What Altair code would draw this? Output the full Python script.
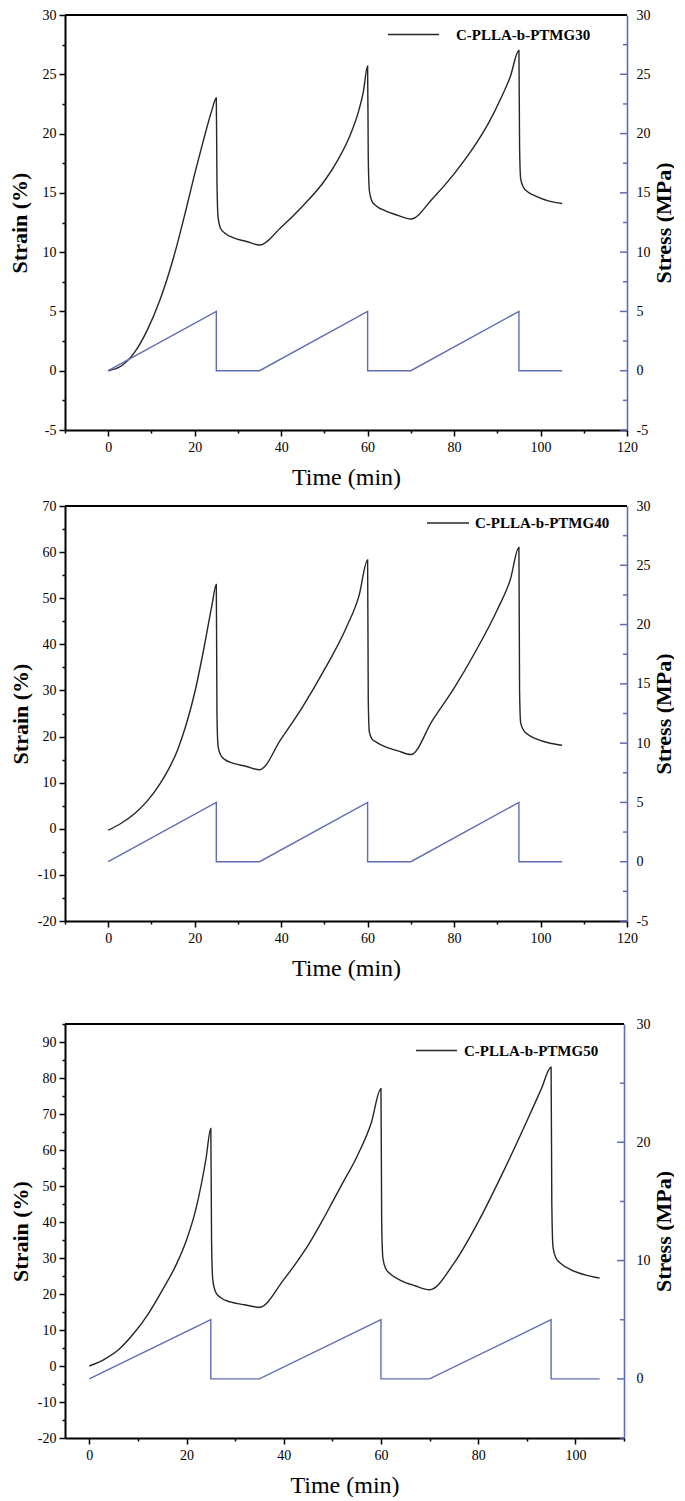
import altair as alt
import pandas as pd

# ---------------- data ----------------
P1_T = [0, 3, 6, 9, 12, 15, 18, 20, 22, 24, 25, 25.15, 25.4, 26, 27, 29, 32, 35,
        40, 45, 50, 53, 56, 58, 59, 60, 60.15, 60.4, 61, 62, 64, 67, 70,
        75, 80, 85, 88, 91, 93, 95, 95.15, 95.4, 96, 97, 99, 102, 105]
P1_STRAIN = [0, 0.4, 1.5, 3.4, 6.0, 9.4, 13.6, 16.6, 19.4, 22, 23, 16, 13, 12, 11.6, 11.2, 10.9, 10.6,
             12.1, 13.9, 16.0, 17.7, 19.9, 22.0, 23.5, 25.7, 18, 15.2, 14.3, 13.9, 13.5, 13.1, 12.8,
             14.5, 16.6, 19.1, 20.9, 23.1, 24.8, 27, 19, 16.2, 15.5, 15.1, 14.7, 14.3, 14.1]

P2_T = [0, 3, 6, 9, 12, 14, 16, 18, 20, 22, 24, 25, 25.15, 25.4, 26, 27, 29, 32, 35,
        40, 45, 50, 55, 58, 60, 60.15, 60.4, 61, 62, 64, 67, 70,
        75, 80, 85, 90, 93, 95, 95.15, 95.4, 96, 97, 99, 102, 105]
P2_STRAIN = [-0.3, 1.2, 3.2, 6.0, 9.8, 13, 17, 22.5, 29.5, 38.5, 48.5, 53, 25, 18, 16, 15, 14.2, 13.5, 12.8,
             19.5, 26.5, 34.5, 43.5, 50.5, 58.3, 28, 21, 19.5, 18.8, 17.8, 16.9, 16.1,
             23.5, 30.5, 38.5, 47.5, 54, 61, 30, 23, 21.5, 20.5, 19.5, 18.6, 18.1]

P3_T = [0, 3, 6, 9, 12, 15, 18, 20, 22, 24, 25, 25.15, 25.4, 26, 27, 29, 32, 35,
        40, 43, 45, 48, 50, 52, 55, 58, 60, 60.15, 60.4, 61, 62, 64, 67, 70,
        75, 80, 85, 90, 93, 95, 95.15, 95.4, 96, 97, 99, 102, 105]
P3_STRAIN = [0, 1.8, 4.5, 8.8, 14.2, 21, 28.5, 35, 44, 57.5, 66, 35, 24, 20.5, 19, 17.8, 17, 16.3,
             24, 29.5, 33.5, 40.5, 45.5, 50.5, 58, 67.5, 77, 40, 30, 27, 25.5, 23.8, 22.3, 21.2,
             28.5, 40, 53.5, 68, 77, 83, 45, 33, 30, 28.5, 26.8, 25.3, 24.4]

STRESS_T = [0, 25, 25, 35, 60, 60, 70, 95, 95, 105]
STRESS = [0, 5, 0, 0, 5, 0, 0, 5, 0, 0]

NAMES = ["C-PLLA-b-PTMG30", "C-PLLA-b-PTMG40", "C-PLLA-b-PTMG50"]

# tick positions (major labelled, minor unlabelled)
X_TICKS_A = list(range(-10, 121, 10))
X_TICKS_B = list(range(0, 111, 10))
Y1_TICKS = [v / 2 for v in range(-10, 61, 5)]      # -5 .. 30 step 2.5
Y2_TICKS = list(range(-20, 71, 5))
Y3_TICKS = list(range(-20, 96, 5))
R_TICKS_A = [v / 2 for v in range(-10, 61, 5)]
R_TICKS_B = list(range(-5, 31, 5))

FONT = "Liberation Serif"
BLUE = "#5f6db5"
BLACK = "#262626"


def cond_size(m):
    return {"condition": {"test": f"datum.value % {m} === 0", "value": 6}, "value": 3}


def lab_expr(m):
    return f"datum.value % {m} === 0 ? '' + datum.value : ''"


def panel(t, strain, name, xdom, xvals, ydom, yvals, ymaj, rdom, rvals, rmaj,
          W, H, legx, legy, symlen, laboff, ltp, rlp, rtp):
    sdf = pd.DataFrame({"t": t, "s": strain, "series": name})
    pdf = pd.DataFrame({"t": STRESS_T, "p": STRESS, "i": list(range(len(STRESS)))})
    rmajor = pd.DataFrame({"v": [v for v in rvals if v % rmaj == 0]})
    rminor = pd.DataFrame({"v": [v for v in rvals if v % rmaj != 0]})

    x_enc = alt.X(
        "t:Q",
        scale=alt.Scale(domain=xdom, nice=False, zero=False),
        axis=alt.Axis(values=xvals, labelExpr=lab_expr(20), tickSize=cond_size(20),
                      title="Time (min)", titleFontSize=24, titleFontWeight="normal",
                      titlePadding=11, labelPadding=4, domainColor="black", domainWidth=2,
                      tickColor="black", tickWidth=1.5, labelOverlap=False, labelFlush=False),
    )

    strain_l = alt.Chart(sdf).mark_line(interpolate="monotone", strokeWidth=1.4).encode(
        x=x_enc,
        y=alt.Y("s:Q", scale=alt.Scale(domain=ydom, nice=False, zero=False),
                axis=alt.Axis(orient="left", values=yvals, labelExpr=lab_expr(ymaj),
                              tickSize=cond_size(ymaj), title="Strain (%)",
                              titleFontSize=22, titleFontWeight="bold", titlePadding=ltp,
                              labelPadding=3, domainColor="black", domainWidth=2,
                              tickColor="black", tickWidth=1.5, labelOverlap=False)),
        color=alt.Color("series:N",
                        scale=alt.Scale(domain=[name], range=[BLACK]),
                        legend=alt.Legend(orient="none", legendX=legx, legendY=legy, title=None,
                                          symbolType="stroke", symbolSize=symlen * symlen,
                                          symbolStrokeWidth=1.4, labelFont=FONT,
                                          labelFontWeight="bold", labelFontSize=15,
                                          labelColor="black", labelOffset=laboff, padding=0)),
    )

    stress_l = alt.Chart(pdf).mark_line(color=BLUE, strokeWidth=1.4).encode(
        x=x_enc,
        y=alt.Y("p:Q", scale=alt.Scale(domain=rdom, nice=False, zero=False),
                axis=alt.Axis(orient="right", values=rvals, labelExpr=lab_expr(rmaj),
                              ticks=False, title="Stress (MPa)",
                              titleFontSize=22, titleFontWeight="bold", titlePadding=rtp,
                              titleAngle=270, titleBaseline="top",
                              labelPadding=rlp, domainColor=BLUE, domainWidth=1.6,
                              labelOverlap=False)),
        order="i:Q",
    )

    # inward-pointing ticks of the right (stress) axis
    rtick_major = alt.Chart(rmajor).mark_rule(color=BLUE, strokeWidth=1.5).encode(
        x=alt.value(W - 7), x2=alt.value(W),
        y=alt.Y("v:Q", scale=alt.Scale(domain=rdom, nice=False, zero=False), axis=None),
    )
    rtick_minor = alt.Chart(rminor).mark_rule(color=BLUE, strokeWidth=1.5).encode(
        x=alt.value(W - 4), x2=alt.value(W),
        y=alt.Y("v:Q", scale=alt.Scale(domain=rdom, nice=False, zero=False), axis=None),
    )

    top_l = alt.Chart(pd.DataFrame({"a": [0]})).mark_rule(color="black", strokeWidth=2).encode(
        x=alt.value(0), x2=alt.value(W), y=alt.value(0)
    )

    return alt.layer(strain_l, stress_l, rtick_major, rtick_minor, top_l).resolve_scale(
        y="independent", color="independent"
    ).properties(width=W, height=H)


# legendY = desired centre of the entry minus half the symbol length
p1 = panel(P1_T, P1_STRAIN, NAMES[0], [-10, 120], X_TICKS_A, [-5, 30], Y1_TICKS, 5,
           [-5, 30], R_TICKS_A, 5, 562, 415, 322, -7, 51, 16, 11, 9, 3)
p2 = panel(P2_T, P2_STRAIN, NAMES[1], [-10, 120], X_TICKS_A, [-20, 70], Y2_TICKS, 10,
           [-5, 30], R_TICKS_A, 5, 562, 415, 361, -5, 42, 5, 5, 9, 3)
p3 = panel(P3_T, P3_STRAIN, NAMES[2], [-5, 110], X_TICKS_B, [-20, 95], Y3_TICKS, 10,
           [-5, 30], R_TICKS_B, 10, 559, 414, 350, 5, 41, 6, 5, 12, 3)

top = alt.vconcat(p1, p2, spacing=10).resolve_scale(color="independent")
chart = alt.vconcat(top, p3, spacing=37).resolve_scale(color="independent").properties(
    padding=0
).configure_view(stroke=None).configure_axis(
    labelFont=FONT, labelFontSize=14, labelColor="black",
    titleFont=FONT, titleColor="black", grid=False
)

chart.save("out.html", embed_options={"renderer": "svg", "actions": False})
